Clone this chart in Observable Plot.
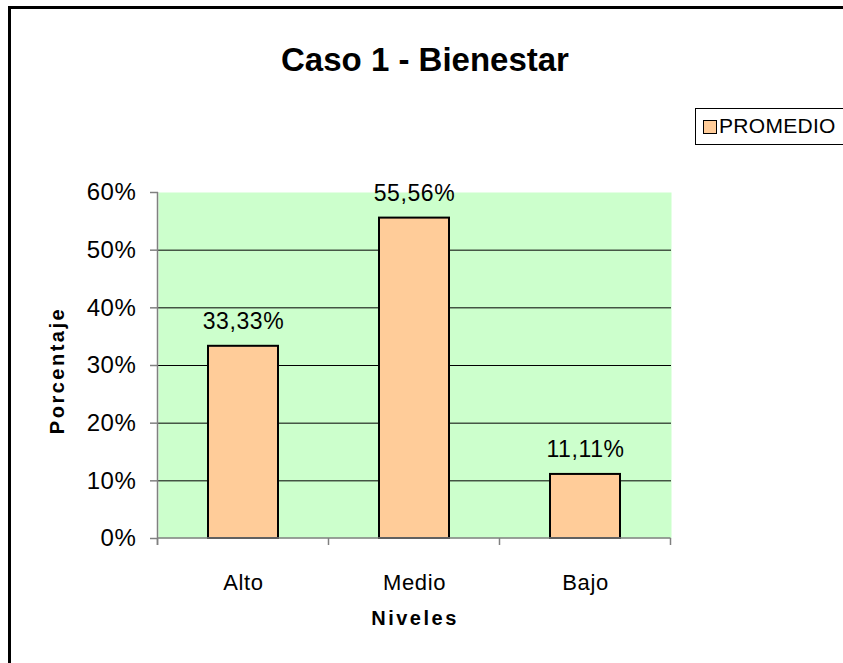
<!DOCTYPE html>
<html>
<head>
<meta charset="utf-8">
<script src="https://cdn.jsdelivr.net/npm/d3@7"></script>
<script src="https://cdn.jsdelivr.net/npm/@observablehq/plot@0.6"></script>
<style>
  html, body { margin: 0; padding: 0; background: #fff; overflow: hidden; }
  #wrap { position: relative; width: 843px; height: 663px; overflow: hidden; font-family: "Liberation Sans", Arial, sans-serif; }
  #border { position: absolute; left: 8px; top: 6px; width: 900px; height: 700px; border-left: 3px solid #000; border-top: 3px solid #000; }
  #title { position: absolute; left: 0; width: 850px; top: 41px; text-align: center; font-weight: bold; font-size: 33px; color: #000; }
  #legend { position: absolute; left: 695px; top: 108px; width: 200px; height: 35px; border: 1px solid #000; }
  #legend .sw { position: absolute; left: 7px; top: 11px; width: 12px; height: 12px; background: #FFCC99; border: 1.5px solid #000; }
  #legend .lb { position: absolute; left: 23px; top: 5px; font-size: 21px; color: #000; letter-spacing: 0.3px; }
  #chart { position: absolute; left: 0; top: 0; }
</style>
</head>
<body>
<div id="wrap">
  <div id="border"></div>
  <div id="title"></div>
  <div id="legend"><div class="sw"></div><div class="lb"></div></div>
  <div id="chart"></div>
</div>
<script>
const titleText = "Caso 1 - Bienestar";
const seriesName = "PROMEDIO";
const categories = ["Alto", "Medio", "Bajo"];
const values = [0.3333, 0.5556, 0.1111];
const valueLabels = ["33,33%", "55,56%", "11,11%"];
const yTicks = [0, 0.1, 0.2, 0.3, 0.4, 0.5, 0.6];
const yTickLabels = ["0%", "10%", "20%", "30%", "40%", "50%", "60%"];
const yTitle = "Porcentaje";
const xTitle = "Niveles";

document.getElementById("title").textContent = titleText;
document.querySelector("#legend .lb").textContent = seriesName;

const data = categories.map((c, i) => ({nivel: c, valor: values[i], label: valueLabels[i]}));

function axesMark(index, scales, values_, dims) {
  const x = scales.x, y = scales.y;
  const bw = typeof x.bandwidth === "function" ? x.bandwidth() : x.bandwidth;
  const step = typeof x.step === "function" ? x.step() : (x(categories[1]) - x(categories[0]));
  const g = d3.create("svg:g").attr("stroke", "#808080").attr("stroke-width", 1.5);
  const y0 = y(yTicks[0]);
  const yTop = y(yTicks[yTicks.length - 1]);
  const bounds = categories.map(c => x(c) - (step - bw) / 2);
  bounds.push(bounds[bounds.length - 1] + step);
  g.append("line").attr("x1", bounds[0]).attr("x2", bounds[0]).attr("y1", yTop).attr("y2", y0 + 7);
  g.append("line").attr("x1", bounds[0]).attr("x2", bounds[bounds.length - 1]).attr("y1", y0).attr("y2", y0);
  for (const b of bounds) {
    g.append("line").attr("x1", b).attr("x2", b).attr("y1", y0).attr("y2", y0 + 7);
  }
  return g.node();
}

const chart = Plot.plot({
  width: 843,
  height: 663,
  marginLeft: 158,
  marginRight: 172,
  marginTop: 192,
  marginBottom: 125,
  style: {fontFamily: "Liberation Sans, Arial, sans-serif", background: "transparent", color: "#000"},
  x: {domain: categories, paddingInner: 0.59, paddingOuter: 0.295, axis: null},
  y: {domain: [0, 0.6], axis: null},
  marks: [
    Plot.frame({fill: "#CCFFCC", stroke: "none"}),
    Plot.ruleY(yTicks.filter(t => t > 0 && t < 0.6), {stroke: "#000", strokeWidth: 1}),
    Plot.barY(data, {x: "nivel", y: "valor", fill: "#FFCC99", stroke: "#000", strokeWidth: 2}),
    Plot.text(data, {x: "nivel", y: "valor", text: "label", lineAnchor: "bottom", dy: -17, fontSize: 23, fill: "#000"}),
    axesMark,
    Plot.axisY(yTicks, {
      tickFormat: (d) => yTickLabels[yTicks.indexOf(d)],
      tickSize: 8, tickPadding: 14, fontSize: 24, stroke: "#808080", strokeWidth: 1.5,
      label: null
    }),
    Plot.axisX(categories, {tickSize: 0, tickPadding: 36, fontSize: 22, label: null}),
    Plot.text([yTitle], {frameAnchor: "left", textAnchor: "middle", dx: -101, dy: 5, rotate: -90, fontSize: 20, fontWeight: "bold", text: d => d}),
    Plot.text([xTitle], {frameAnchor: "bottom", dy: 86, fontSize: 20, fontWeight: "bold", text: d => d})
  ]
});
chart.querySelectorAll("text").forEach(t => {
  const bold = t.getAttribute("font-weight") || (t.parentNode && t.parentNode.getAttribute && t.parentNode.getAttribute("font-weight"));
  t.style.letterSpacing = bold ? "2.5px" : "0.6px";
});
document.getElementById("chart").appendChild(chart);
</script>
</body>
</html>
